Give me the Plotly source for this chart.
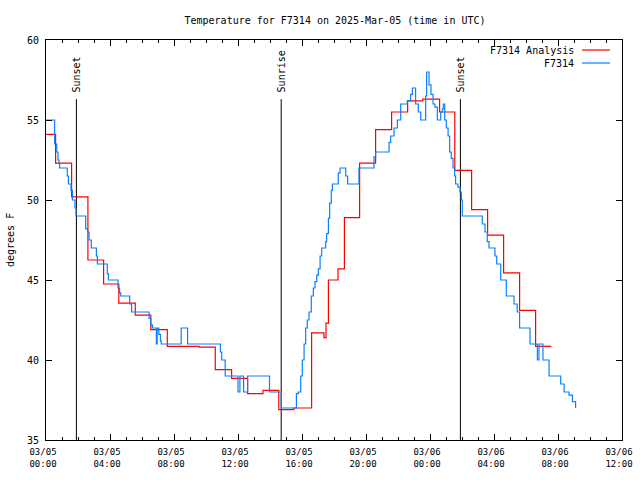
import pandas as pd
import plotly.graph_objects as go

# ---- data (hours after 2025-03-05 00:00 UTC, temperature in deg F) ----
base_time = "2025-03-05 00:00"

analysis_hours = [0, 0.6, 1.6, 2.62, 3.6, 4.55, 5.58, 6.55, 7.58, 9.56, 10.58, 11.6,
                  12.6, 13.56, 14.55, 15.5, 16.6, 17.37, 17.5, 17.65, 18.25, 18.65,
                  19.6, 20.6, 21.6, 22.6, 23.55, 24.6, 25.55, 26.6, 27.6, 28.6, 29.6,
                  30.6, 31.58]
analysis_temp = [54.1, 52.3, 50.2, 46.25, 44.75, 43.55, 42.8, 41.9, 40.85, 40.8, 39.4,
                 38.85, 37.9, 38.1, 36.9, 37.0, 41.7, 41.4, 42.3, 45.0, 45.7, 48.9,
                 52.3, 54.4, 55.5, 56.2, 56.3, 55.5, 51.85, 49.4, 47.8, 45.45, 43.1,
                 40.85, 40.85]

obs_hours = [0, 0.54, 0.67, 0.75, 0.81, 0.85, 1.33, 1.4, 1.56, 1.65, 1.81, 1.875,
             2.48, 2.6, 2.69, 2.83, 3.15, 3.21, 3.83, 3.9, 4.5, 4.6, 4.67, 5.23, 5.35,
             6.44, 6.55, 6.65, 6.9, 6.95, 7.05, 7.15, 7.2, 8.45, 8.85, 10.9, 10.98,
             11.2, 12.0, 12.12, 12.35, 12.6, 13.97, 14.7, 15.65, 15.77, 15.92, 16.02,
             16.13, 16.23, 16.33, 16.44, 16.58, 16.71, 16.81, 16.92, 17.02, 17.13,
             17.23, 17.48, 17.54, 17.65, 17.73, 17.83, 17.9, 18.27, 18.38, 18.73,
             18.85, 19.56, 20.5, 20.6, 21.44, 21.54, 21.75, 21.96, 22.17, 22.58,
             22.79, 22.9, 23.1, 23.27, 23.42, 23.73, 23.79, 23.94, 24.06, 24.19,
             24.31, 24.46, 24.67, 24.77, 24.83, 24.92, 25.02, 25.13, 25.23, 25.33,
             25.44, 25.54, 25.6, 25.75, 25.88, 25.96, 26.02, 27.27, 27.44, 27.58,
             27.69, 28.06, 28.17, 28.42, 28.77, 29.25, 29.45, 29.6, 30.25, 30.71,
             30.81, 31.06, 31.44, 32.17, 32.38, 32.69, 32.9, 33.1]
obs_temp = [55.0, 53.5, 53.0, 52.5, 52.3, 52.0, 51.5, 51.0, 50.6, 50.0, 49.5, 49.0,
            48.2, 48.0, 47.5, 47.0, 46.5, 46.0, 45.4, 45.0, 44.5, 44.2, 44.0, 43.5, 43.0,
            42.6, 42.2, 42.0, 41.0, 42.0, 41.6, 41.2, 41.0, 42.0, 41.0, 40.5, 40.0,
            39.0, 38.0, 39.0, 38.0, 39.0, 38.0, 37.0, 37.9, 38.0, 39.0, 40.0,
            41.0, 42.0, 42.5, 43.0, 44.0, 44.5, 44.9, 45.3, 45.7, 46.5,
            47.0, 47.4, 47.9, 48.85, 49.8, 50.6, 51.0, 51.7, 52.0, 51.5,
            51.0, 52.0, 52.7, 53.0, 53.6, 54.0, 54.5, 55.0, 56.0, 56.2,
            56.6, 57.0, 56.0, 55.5, 55.0, 56.5, 58.0, 57.2, 56.6, 56.0,
            55.8, 55.0, 55.5, 55.7, 56.0, 55.0, 54.5, 54.0, 53.0, 52.6,
            52.0, 51.5, 51.0, 50.8, 50.5, 50.0, 49.0, 48.5, 48.0, 47.4,
            47.0, 46.5, 46.0, 45.0, 44.0, 43.5, 43.0, 42.0, 41.0, 40.0,
            41.0, 40.0, 39.0, 38.5, 38.0, 37.8, 37.4, 37.0]

event_hours = [1.9, 14.7, 25.9]
event_labels = ["Sunset", "Sunrise", "Sunset"]

tick_hours = [0, 4, 8, 12, 16, 20, 24, 28, 32, 36]
series_names = ["F7314 Analysis", "F7314"]
series_colors = ["#ff0000", "#0a80ff"]
title_text = "Temperature for F7314 on 2025-Mar-05 (time in UTC)"
y_title = "degrees F"
y_range = [35, 60]

# ---- build ----
t0 = pd.Timestamp(base_time)
def to_time(hours):
    return [t0 + pd.Timedelta(hours=h) for h in hours]

FONT = "DejaVu Sans Mono"
fig = go.Figure()
fig.add_trace(go.Scatter(x=to_time(analysis_hours), y=analysis_temp, mode="lines",
                         line=dict(color=series_colors[0], width=1.2, shape="hv"),
                         name=series_names[0]))
fig.add_trace(go.Scatter(x=to_time(obs_hours), y=obs_temp, mode="lines",
                         line=dict(color=series_colors[1], width=1.2, shape="hv"),
                         name=series_names[1]))

event_top = 56.3
for h, lab in zip(event_hours, event_labels):
    t = t0 + pd.Timedelta(hours=h)
    fig.add_shape(type="line", x0=t, x1=t, y0=y_range[0], y1=event_top,
                  xref="x", yref="y", line=dict(color="black", width=1), layer="below")
    fig.add_annotation(x=t, y=event_top, xref="x", yref="y", text=lab, textangle=-90,
                       showarrow=False, xanchor="center", yanchor="bottom", yshift=5,
                       font=dict(family=FONT, size=10, color="black"))

# manual legend (text then line sample, as in the reference)
L, R, T, B = 46, 18, 40, 40
W = 640 - L - R
H = 480 - T - B
def px(xp):
    return (xp - L) / W
def py(yp):
    return (480 - B - yp) / H
for i, (name, col) in enumerate(zip(series_names, series_colors)):
    yy = 50 + i * 13
    fig.add_annotation(x=px(576), y=py(yy), xref="paper", yref="paper", text=name,
                       showarrow=False, xanchor="right", yanchor="middle",
                       font=dict(family=FONT, size=10, color="black"))
    fig.add_shape(type="line", x0=px(582), x1=px(610), y0=py(yy), y1=py(yy),
                  xref="paper", yref="paper", line=dict(color=col, width=1.2))

fig.add_annotation(x=px(10), y=0.5, xref="paper", yref="paper", text=y_title,
                   textangle=-90, showarrow=False, xanchor="center", yanchor="middle",
                   font=dict(family=FONT, size=10, color="black"))

fig.update_layout(
    width=640, height=480,
    margin=dict(l=L, r=R, t=T, b=B, autoexpand=False),
    paper_bgcolor="white", plot_bgcolor="white",
    showlegend=False,
    title=dict(text=title_text, x=335 / 640, xanchor="center", xref="container",
               y=1 - 20 / 480, yanchor="middle", yref="container",
               font=dict(family=FONT, size=10, color="black")),
    font=dict(family=FONT, size=10, color="black"),
)
fig.update_xaxes(
    type="date", automargin=False,
    range=[t0, t0 + pd.Timedelta(hours=36)],
    tickvals=to_time(tick_hours),
    tickformat="%m/%d<br>%H:%M",
    ticks="inside", ticklen=6, tickcolor="black",
    ticklabelstandoff=3, ticklabelshift=-3,
    showline=True, linecolor="black", linewidth=1, mirror="allticks",
    showgrid=False, zeroline=False,
    minor=dict(ticks="inside", ticklen=3, dtick=3600000, tick0=t0, tickcolor="black",
               showgrid=False),
    tickfont=dict(family=FONT, size=9, color="black"),
)
fig.update_yaxes(
    automargin=False,
    range=y_range, dtick=5, tick0=35,
    ticks="inside", ticklen=6, tickcolor="black",
    ticklabelstandoff=4,
    showline=True, linecolor="black", linewidth=1, mirror="allticks",
    showgrid=False, zeroline=False,
    tickfont=dict(family=FONT, size=10, color="black"),
)

fig.write_html("out.html", config={"displayModeBar": False},
               post_script="document.body.style.margin='0';document.body.style.padding='0';")
